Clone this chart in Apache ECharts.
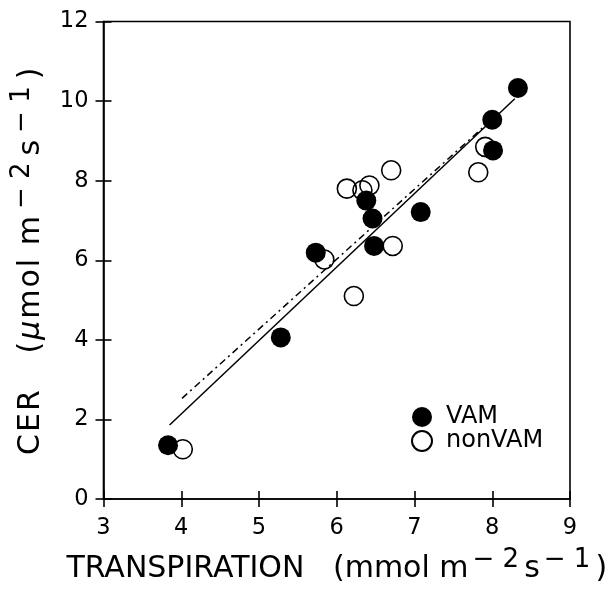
<!DOCTYPE html>
<html>
<head>
<meta charset="utf-8">
<script src="https://cdn.jsdelivr.net/npm/echarts@6/dist/echarts.min.js"></script>
<style>
  html, body { margin: 0; padding: 0; background: #fff; }
  #chart { width: 612px; height: 589px; }
</style>
</head>
<body>
<div id="chart"></div>
<script>
  // VAM plants (filled circles)
  var vamX = [3.83, 5.28, 5.73, 6.38, 6.46, 6.48, 7.08, 8.00, 8.01, 8.33];
  var vamY = [1.35, 4.06, 6.19, 7.50, 7.05, 6.36, 7.21, 9.53, 8.76, 10.33];
  // nonVAM plants (open circles)
  var nonX = [4.02, 5.84, 6.22, 6.13, 6.33, 6.42, 6.70, 6.72, 7.82, 7.91];
  var nonY = [1.25, 6.02, 5.10, 7.80, 7.76, 7.88, 8.26, 6.36, 8.21, 8.85];
  // regression lines (end points)
  var fitVamX = [3.85, 8.29];
  var fitVamY = [1.86, 10.06];
  var fitNonX = [4.01, 7.90];
  var fitNonY = [2.53, 9.37];

  function pairs(xs, ys) {
    return xs.map(function (x, i) { return [x, ys[i]]; });
  }
  // one rich token per character, so the y title can be letter-spaced
  function spread(str, style) {
    return str.split('').map(function (c) { return '{' + style + '|' + c + '}'; }).join('');
  }

  var font = 'DejaVu Sans';
  var ink = '#000';

  // superscripts: base text sits at the bottom of a taller line, sup at the top
  var titleRich = {
    a: { fontFamily: font, fontSize: 30, color: ink, lineHeight: 37, verticalAlign: 'bottom' },
    s: { fontFamily: font, fontSize: 26, color: ink, lineHeight: 24, verticalAlign: 'top', padding: [0, 5, 0, 4] },
    b: { fontFamily: font, fontSize: 30, color: ink, lineHeight: 37, verticalAlign: 'bottom', padding: [0, 2, 0, 0] },
    bm: { fontFamily: font, fontSize: 30, color: ink, fontStyle: 'italic', lineHeight: 37, verticalAlign: 'bottom', padding: [0, 2, 0, 0] },
    ys: { fontFamily: font, fontSize: 26, color: ink, lineHeight: 24, verticalAlign: 'top', padding: [0, 7, 0, 5] }
  };

  function baseX(inside) {
    return {
      type: 'value', min: 3, max: 9, interval: 1, position: 'bottom',
      axisLine: { show: !inside, onZero: false, lineStyle: { color: ink, width: 1.6 } },
      axisTick: { show: true, inside: inside, length: 8, lineStyle: { color: ink, width: 1.6 } },
      axisLabel: { show: !inside, margin: 18, fontFamily: font, fontSize: 22.5, color: ink },
      splitLine: { show: false }
    };
  }
  function baseY(inside) {
    return {
      type: 'value', min: 0, max: 12, interval: 2, position: 'left',
      axisLine: { show: !inside, onZero: false, lineStyle: { color: ink, width: 1.6 } },
      axisTick: { show: true, inside: inside, length: 8, lineStyle: { color: ink, width: 1.6 } },
      axisLabel: { show: !inside, margin: 15, fontFamily: font, fontSize: 22.5, color: ink },
      splitLine: { show: false }
    };
  }

  var xMain = baseX(false);
  xMain.name = '{a|TRANSPIRATION   (mmol m}{s|− 2}{a|s}{s|− 1}{a|)}';
  xMain.nameLocation = 'middle';
  xMain.nameGap = 48;
  xMain.nameTextStyle = { rich: titleRich };

  var yMain = baseY(false);
  yMain.name = spread('CER   (', 'b') + '{bm|μ}' + spread('mol m', 'b') +
    '{ys|− 2}{b|s}{ys|− 1}{b|)}';
  yMain.nameLocation = 'middle';
  yMain.nameRotate = 90;
  yMain.nameGap = 57;
  yMain.nameTextStyle = { rich: titleRich };

  var chart = echarts.init(document.getElementById('chart'), null, { renderer: 'canvas' });
  chart.setOption({
    backgroundColor: '#fff',
    animation: false,
    grid: {
      left: 103.5, right: 42, top: 21.5, bottom: 89,
      show: true, borderColor: ink, borderWidth: 1.6, backgroundColor: 'transparent'
    },
    legend: {
      orient: 'vertical',
      left: 411, top: 405, padding: 0,
      itemWidth: 20, itemHeight: 20, itemGap: 0,
      textStyle: { fontFamily: font, fontSize: 24, color: ink, lineHeight: 20, padding: [0, 0, 0, 9] },
      data: ['VAM', 'nonVAM']
    },
    xAxis: [xMain, baseX(true)],
    yAxis: [yMain, baseY(true)],
    series: [
      {
        name: 'fitVAM', type: 'line', data: pairs(fitVamX, fitVamY),
        symbol: 'none', silent: true,
        lineStyle: { color: ink, width: 1.5 }
      },
      {
        name: 'fitNon', type: 'line', data: pairs(fitNonX, fitNonY),
        symbol: 'none', silent: true,
        lineStyle: { color: ink, width: 1.5, type: [7, 4, 2, 4] }
      },
      {
        name: 'nonVAM', type: 'scatter', data: pairs(nonX, nonY),
        symbol: 'circle', symbolSize: 19,
        itemStyle: { color: 'rgba(255,255,255,0)', borderColor: ink, borderWidth: 1.6, opacity: 1 }
      },
      {
        name: 'VAM', type: 'scatter', data: pairs(vamX, vamY),
        symbol: 'circle', symbolSize: 20,
        itemStyle: { color: ink, opacity: 1 }
      }
    ]
  });
</script>
</body>
</html>
